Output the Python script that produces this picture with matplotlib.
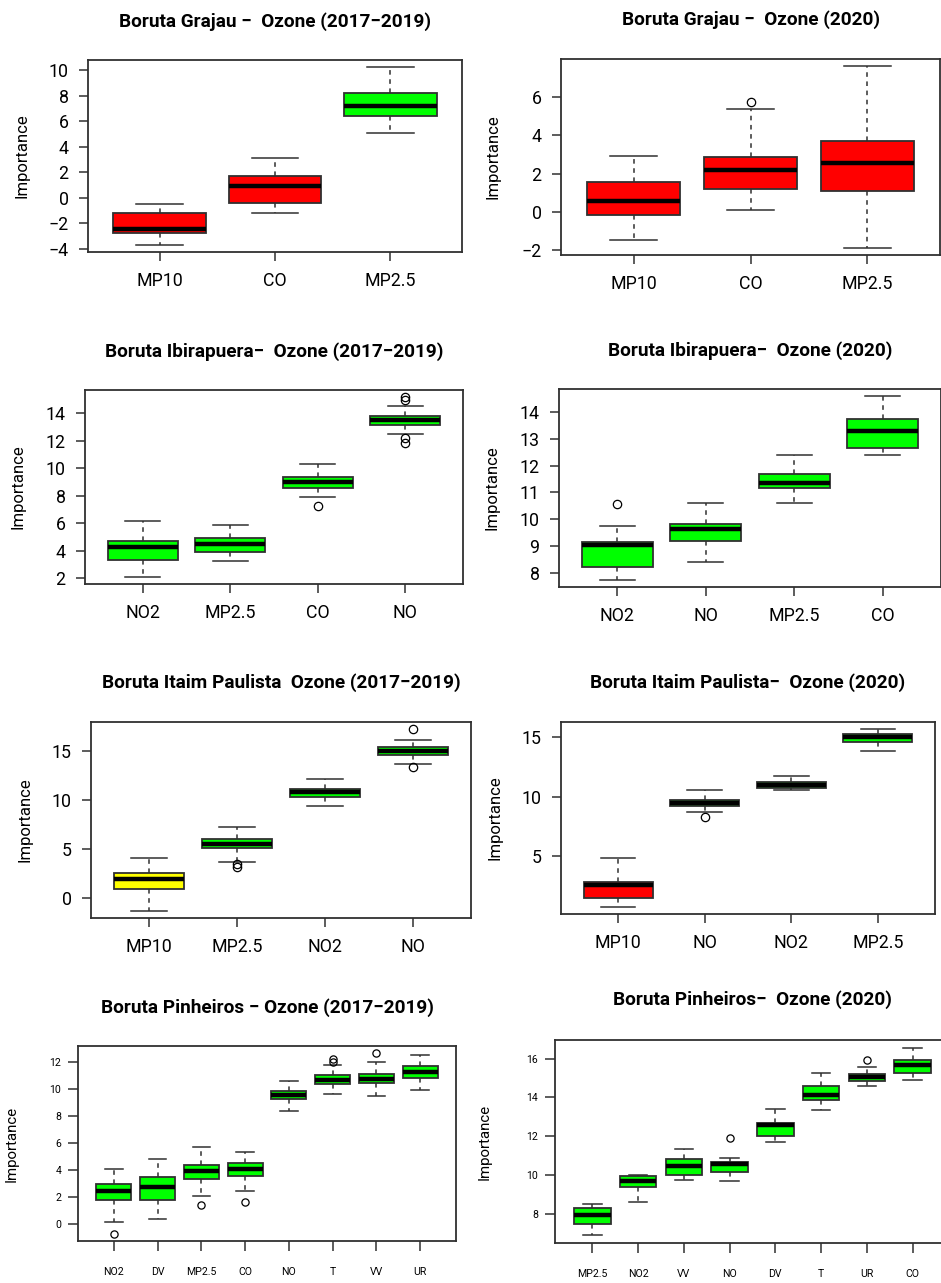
import matplotlib
matplotlib.use("Agg")
import matplotlib.pyplot as plt
from matplotlib.ticker import MultipleLocator

plt.rcParams["font.family"] = ["Roboto", "DejaVu Sans"]

# ---- data: Boruta importance boxplots ----
# Grajau 2017-2019
gr1_vars = ["MP10", "CO", "MP2.5"]
gr1_lo = [-3.69, -1.17, 5.05]
gr1_q1 = [-2.78, -0.40, 6.39]
gr1_med = [-2.47, 0.93, 7.17]
gr1_q3 = [-1.20, 1.70, 8.23]
gr1_hi = [-0.45, 3.13, 10.23]
gr1_out = [[], [], []]
gr1_dec = ["Rejected", "Rejected", "Confirmed"]

# Grajau 2020
gr2_vars = ["MP10", "CO", "MP2.5"]
gr2_lo = [-1.48, 0.11, -1.86]
gr2_q1 = [-0.17, 1.20, 1.10]
gr2_med = [0.59, 2.18, 2.56]
gr2_q3 = [1.56, 2.86, 3.72]
gr2_hi = [2.94, 5.35, 7.59]
gr2_out = [[], [5.72], []]
gr2_dec = ["Rejected", "Rejected", "Rejected"]

# Ibirapuera 2017-2019
ib1_vars = ["NO2", "MP2.5", "CO", "NO"]
ib1_lo = [2.12, 3.27, 7.93, 12.51]
ib1_q1 = [3.37, 3.94, 8.60, 13.16]
ib1_med = [4.26, 4.54, 8.98, 13.52]
ib1_q3 = [4.74, 4.93, 9.39, 13.81]
ib1_hi = [6.15, 5.86, 10.30, 14.55]
ib1_out = [[], [], [7.28], [15.18, 14.94, 12.18, 11.82]]
ib1_dec = ["Confirmed", "Confirmed", "Confirmed", "Confirmed"]

# Ibirapuera 2020
ib2_vars = ["NO2", "NO", "MP2.5", "CO"]
ib2_lo = [7.74, 8.40, 10.59, 12.40]
ib2_q1 = [8.21, 9.19, 11.15, 12.66]
ib2_med = [9.04, 9.64, 11.34, 13.29]
ib2_q3 = [9.14, 9.83, 11.69, 13.74]
ib2_hi = [9.75, 10.61, 12.40, 14.59]
ib2_out = [[10.57], [], [], []]
ib2_dec = ["Confirmed", "Confirmed", "Confirmed", "Confirmed"]

# Itaim Paulista 2017-2019
it1_vars = ["MP10", "MP2.5", "NO2", "NO"]
it1_lo = [-1.33, 3.67, 9.46, 13.71]
it1_q1 = [0.92, 5.07, 10.34, 14.66]
it1_med = [1.97, 5.54, 10.82, 15.07]
it1_q3 = [2.52, 6.02, 11.19, 15.48]
it1_hi = [4.08, 7.21, 12.18, 16.22]
it1_out = [[], [3.50, 3.13], [], [17.28, 13.40]]
it1_dec = ["Tentative", "Confirmed", "Confirmed", "Confirmed"]

# Itaim Paulista 2020
it2_vars = ["MP10", "NO", "NO2", "MP2.5"]
it2_lo = [0.72, 8.72, 10.53, 13.81]
it2_q1 = [1.44, 9.22, 10.72, 14.61]
it2_med = [2.58, 9.50, 10.97, 15.00]
it2_q3 = [2.78, 9.75, 11.22, 15.25]
it2_hi = [4.81, 10.53, 11.72, 15.69]
it2_out = [[], [8.28], [], []]
it2_dec = ["Rejected", "Confirmed", "Confirmed", "Confirmed"]

# Pinheiros 2017-2019
pi1_vars = ["NO2", "DV", "MP2.5", "CO", "NO", "T", "VV", "UR"]
pi1_lo = [0.10, 0.37, 2.05, 2.40, 8.32, 9.60, 9.48, 9.93]
pi1_q1 = [1.78, 1.78, 3.33, 3.51, 9.21, 10.37, 10.40, 10.79]
pi1_med = [2.40, 2.69, 3.88, 4.07, 9.53, 10.67, 10.72, 11.26]
pi1_q3 = [2.94, 3.43, 4.32, 4.49, 9.80, 10.99, 11.09, 11.68]
pi1_hi = [4.05, 4.77, 5.65, 5.31, 10.57, 11.78, 12.00, 12.49]
pi1_out = [[-0.74], [], [1.38], [1.60], [], [12.20, 11.95], [12.62], []]
pi1_dec = ["Confirmed"] * 8

# Pinheiros 2020
pi2_vars = ["MP2.5", "NO2", "VV", "NO", "DV", "T", "UR", "CO"]
pi2_lo = [6.87, 8.59, 9.73, 9.68, 11.72, 13.35, 14.61, 14.92]
pi2_q1 = [7.46, 9.39, 10.01, 10.16, 12.01, 13.89, 14.87, 15.28]
pi2_med = [7.95, 9.66, 10.45, 10.54, 12.59, 14.13, 15.06, 15.66]
pi2_q3 = [8.29, 9.94, 10.81, 10.69, 12.70, 14.58, 15.23, 15.95]
pi2_hi = [8.52, 9.99, 11.36, 10.86, 13.40, 15.25, 15.55, 16.58]
pi2_out = [[], [], [], [11.89], [], [], [15.95], []]
pi2_dec = ["Confirmed"] * 8

DEC_COLORS = {"Confirmed": "#00ff00", "Tentative": "#ffff00", "Rejected": "#ff0000"}

MINUS = "\u2212"
panels = [
    (f"Boruta Grajau {MINUS}  Ozone (2017{MINUS}2019)",
     gr1_vars, gr1_lo, gr1_q1, gr1_med, gr1_q3, gr1_hi, gr1_out, gr1_dec),
    (f"Boruta Grajau {MINUS}  Ozone (2020)",
     gr2_vars, gr2_lo, gr2_q1, gr2_med, gr2_q3, gr2_hi, gr2_out, gr2_dec),
    (f"Boruta Ibirapuera{MINUS}  Ozone (2017{MINUS}2019)",
     ib1_vars, ib1_lo, ib1_q1, ib1_med, ib1_q3, ib1_hi, ib1_out, ib1_dec),
    (f"Boruta Ibirapuera{MINUS}  Ozone (2020)",
     ib2_vars, ib2_lo, ib2_q1, ib2_med, ib2_q3, ib2_hi, ib2_out, ib2_dec),
    (f"Boruta Itaim Paulista  Ozone (2017{MINUS}2019)",
     it1_vars, it1_lo, it1_q1, it1_med, it1_q3, it1_hi, it1_out, it1_dec),
    (f"Boruta Itaim Paulista{MINUS}  Ozone (2020)",
     it2_vars, it2_lo, it2_q1, it2_med, it2_q3, it2_hi, it2_out, it2_dec),
    (f"Boruta Pinheiros {MINUS} Ozone (2017{MINUS}2019)",
     pi1_vars, pi1_lo, pi1_q1, pi1_med, pi1_q3, pi1_hi, pi1_out, pi1_dec),
    (f"Boruta Pinheiros{MINUS}  Ozone (2020)",
     pi2_vars, pi2_lo, pi2_q1, pi2_med, pi2_q3, pi2_hi, pi2_out, pi2_dec),
]

# ---- layout (pixels): axes box l,t,r,b ; title y ; ylabel x ; y step ; small fonts
W, H = 941, 1283
layout = [
    dict(box=(88, 60, 462, 252), ty=22, lx=22, step=2, small=False),
    dict(box=(561, 59, 940, 255), ty=20, lx=493, step=2, small=False),
    dict(box=(85, 390, 463, 584), ty=352, lx=18, step=2, small=False),
    dict(box=(559, 389, 941, 587), ty=351, lx=492, step=1, small=False),
    dict(box=(91, 722, 471, 918), ty=683, lx=25, step=5, small=False),
    dict(box=(561, 722, 935, 914), ty=683, lx=495, step=5, small=False),
    dict(box=(78, 1046, 456, 1241), ty=1008, lx=12, step=2, small=True),
    dict(box=(555, 1040, 950, 1243), ty=1000, lx=485, step=2, small=True),
]

fig = plt.figure(figsize=(W / 100, H / 100), dpi=100)
edge = "#303030"

for (title, vars_, lo, q1, med, q3, hi, out, dec), lay in zip(panels, layout):
    l, t, r, b = lay["box"]
    ax = fig.add_axes([l / W, 1 - b / H, (r - l) / W, (b - t) / H])
    stats = [dict(label=v, whislo=a, q1=c, med=m, q3=d, whishi=e, fliers=f)
             for v, a, c, m, d, e, f in zip(vars_, lo, q1, med, q3, hi, out)]
    n = len(stats)
    ms = 5.2 if lay["small"] else 6
    parts = ax.bxp(stats, positions=range(1, n + 1), widths=0.8, patch_artist=True,
                   boxprops=dict(edgecolor=edge, linewidth=1.3),
                   medianprops=dict(color="black", linewidth=3.2, solid_capstyle="butt"),
                   whiskerprops=dict(color=edge, linewidth=1.1, linestyle=(0, (3, 3))),
                   capprops=dict(color=edge, linewidth=1.1),
                   flierprops=dict(marker="o", markerfacecolor="none",
                                   markeredgecolor="black", markersize=ms,
                                   markeredgewidth=0.9))
    for patch, d in zip(parts["boxes"], dec):
        patch.set_facecolor(DEC_COLORS[d])

    # R-style 4% padding
    allv = lo + hi + [x for f in out for x in f]
    ymin, ymax = min(allv), max(allv)
    pad = 0.04 * (ymax - ymin)
    ax.set_ylim(ymin - pad, ymax + pad)
    ax.set_xlim(0.5 - 0.04 * n, n + 0.5 + 0.04 * n)
    ax.yaxis.set_major_locator(MultipleLocator(lay["step"]))

    for s in ax.spines.values():
        s.set_color(edge)
        s.set_linewidth(1.3)
    if lay["small"]:
        ax.tick_params(axis="both", labelsize=7.6, length=7, width=1.1, color=edge)
        ax.tick_params(axis="y", pad=5)
        ax.tick_params(axis="x", pad=11.5)
        lsize = 10.8
    else:
        ax.tick_params(axis="both", labelsize=12.8, length=6.5, width=1.1, color=edge)
        ax.tick_params(axis="y", pad=7.5)
        ax.tick_params(axis="x", pad=8)
        lsize = 12

    fig.text((l + r) / 2 / W, 1 - lay["ty"] / H, title, ha="center", va="center",
             fontsize=13.7, fontweight="bold")
    fig.text(lay["lx"] / W, 1 - (t + b) / 2 / H, "Importance", rotation=90,
             ha="center", va="center", fontsize=lsize)

fig.savefig("out.png", dpi=100)
